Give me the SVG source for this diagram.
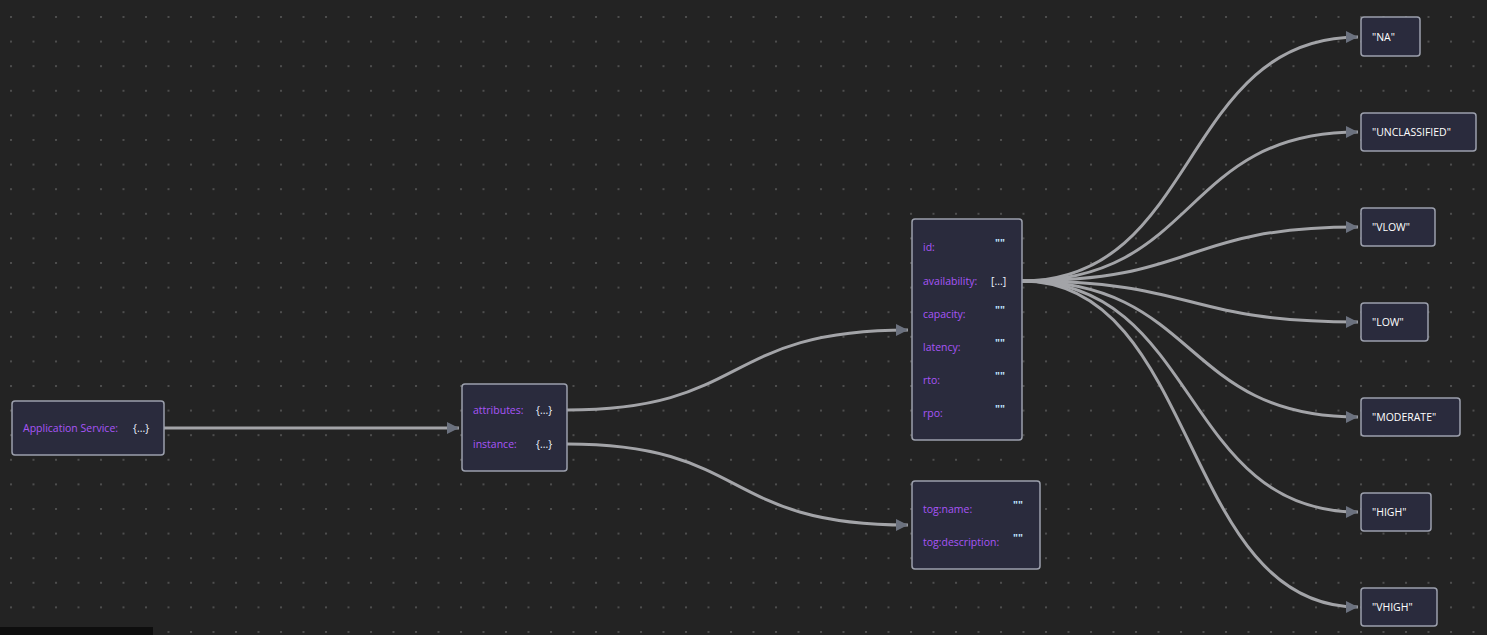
<svg xmlns="http://www.w3.org/2000/svg" width="1487" height="635" viewBox="0 0 1487 635">
<defs>
<pattern id="dots" x="10" y="16" width="22.5" height="24.6" patternUnits="userSpaceOnUse"><circle cx="1" cy="1" r="1" fill="#5a5a5a"/></pattern>
<marker id="arr" viewBox="0 0 10 10" refX="10" refY="5" markerWidth="4" markerHeight="4" markerUnits="strokeWidth" orient="auto"><path d="M0,0 L10,5 L0,10 z" fill="#6b717e"/></marker>
</defs>
<style>
.n{fill:#2a2b3d;stroke:#9ca0ad;stroke-width:1.5}
.k{fill:#a855f7;font-family:"Open Sans",sans-serif;font-size:10.5px}
.v{fill:#eef4ff;font-family:"Open Sans",sans-serif;font-size:10.5px}
.q{fill:#bfe4ff;font-family:"Open Sans",sans-serif;font-size:10.5px;font-weight:bold}
.l{fill:#ffffff;font-family:"Open Sans",sans-serif;font-size:10.5px}
.e{fill:none;stroke:#a3a4a8;stroke-width:3;marker-end:url(#arr)}
</style>
<rect width="1487" height="635" fill="#232323"/>
<rect width="1487" height="635" fill="url(#dots)"/>
<rect x="0" y="627" width="153" height="8" fill="#0e0e0e"/>
<g id="connectors">
<path class="e" d="M164,428 L459,428"/>
<path class="e" d="M567,410 C750,410 720,330 908,330"/>
<path class="e" d="M567,444 C750,444 720,525 908,525"/>
<path class="e" d="M1022,281 C1200,281 1180,37 1358,37"/>
<path class="e" d="M1022,281 C1200,281 1180,132 1358,132"/>
<path class="e" d="M1022,281 C1200,281 1180,227 1358,227"/>
<path class="e" d="M1022,281 C1200,281 1180,322 1358,322"/>
<path class="e" d="M1022,281 C1200,281 1180,417 1358,417"/>
<path class="e" d="M1022,281 C1200,281 1180,512 1358,512"/>
<path class="e" d="M1022,281 C1200,281 1180,607 1358,607"/>
</g>
<g id="app"><rect class="n" x="12" y="401" width="152" height="54" rx="3"/><text class="k" x="23" y="432">Application Service:</text><text class="v" x="133" y="432">{...}</text></g>
<g id="mid"><rect class="n" x="462" y="384" width="105" height="87" rx="3"/><text class="k" x="473" y="414">attributes:</text><text class="v" x="536" y="414">{...}</text><text class="k" x="473" y="448">instance:</text><text class="v" x="536" y="448">{...}</text></g>
<g id="attrs"><rect class="n" x="912" y="219" width="110" height="221" rx="3"/>
<text class="k" x="923" y="251">id:</text><text class="q" x="995" y="247">""</text>
<text class="k" x="923" y="285">availability:</text><text class="v" x="991" y="285">[...]</text>
<text class="k" x="923" y="318">capacity:</text><text class="q" x="995" y="314">""</text>
<text class="k" x="923" y="351">latency:</text><text class="q" x="995" y="347">""</text>
<text class="k" x="923" y="384">rto:</text><text class="q" x="995" y="380">""</text>
<text class="k" x="923" y="417">rpo:</text><text class="q" x="995" y="413">""</text></g>
<g id="inst"><rect class="n" x="912" y="481" width="128" height="88" rx="3"/>
<text class="k" x="923" y="513">tog:name:</text><text class="q" x="1013" y="509">""</text>
<text class="k" x="923" y="546">tog:description:</text><text class="q" x="1013" y="542">""</text></g>
<g id="na"><rect class="n" x="1361" y="17" width="59" height="39" rx="3"/><text class="l" x="1372" y="41">"NA"</text></g>
<g id="unclassified"><rect class="n" x="1361" y="113" width="115" height="38" rx="3"/><text class="l" x="1372" y="136">"UNCLASSIFIED"</text></g>
<g id="vlow"><rect class="n" x="1361" y="208" width="74" height="38" rx="3"/><text class="l" x="1372" y="231">"VLOW"</text></g>
<g id="low"><rect class="n" x="1361" y="303" width="67" height="38" rx="3"/><text class="l" x="1372" y="326">"LOW"</text></g>
<g id="moderate"><rect class="n" x="1361" y="398" width="99" height="38" rx="3"/><text class="l" x="1372" y="421">"MODERATE"</text></g>
<g id="high"><rect class="n" x="1361" y="493" width="70" height="38" rx="3"/><text class="l" x="1372" y="516">"HIGH"</text></g>
<g id="vhigh"><rect class="n" x="1361" y="588" width="76" height="38" rx="3"/><text class="l" x="1372" y="611">"VHIGH"</text></g>
</svg>
